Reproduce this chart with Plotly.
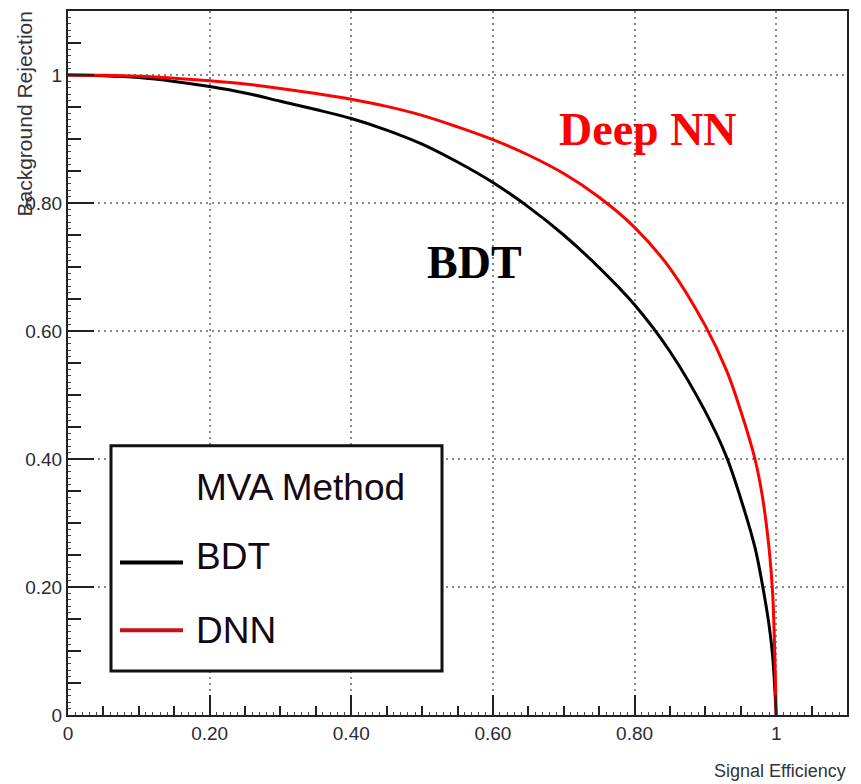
import plotly.graph_objects as go

# ---- data ----
bdt_x = [0, 0.05, 0.1, 0.15, 0.2, 0.25, 0.3, 0.35, 0.4, 0.45, 0.5, 0.55, 0.6, 0.65, 0.7,
         0.75, 0.8, 0.85, 0.9, 0.93, 0.95, 0.97, 0.98, 0.99, 0.995, 1.0]
bdt_y = [1.0, 0.999, 0.996, 0.990, 0.982, 0.972, 0.959, 0.946, 0.932, 0.914, 0.892, 0.864,
         0.832, 0.794, 0.750, 0.699, 0.641, 0.568, 0.474, 0.403, 0.338, 0.262, 0.207,
         0.140, 0.092, 0.0]

dnn_x = [0, 0.05, 0.1, 0.15, 0.2, 0.25, 0.3, 0.35, 0.4, 0.45, 0.5, 0.55, 0.6, 0.65, 0.7,
         0.75, 0.8, 0.85, 0.9, 0.93, 0.95, 0.97, 0.98, 0.99, 0.995, 1.0]
dnn_y = [1.0, 0.9995, 0.998, 0.995, 0.991, 0.986, 0.979, 0.971, 0.962, 0.951, 0.937, 0.919,
         0.899, 0.875, 0.846, 0.809, 0.762, 0.698, 0.608, 0.538, 0.475, 0.400, 0.345,
         0.260, 0.190, 0.0]

major_vals = [0, 0.2, 0.4, 0.6, 0.8, 1.0]
major_text = ["0", "0.20", "0.40", "0.60", "0.80", "1"]
mid_vals = [round(i * 0.05, 2) for i in range(23) if i % 4 != 0]

series_names = ["BDT", "DNN"]
legend_title = "MVA Method"
x_title = "Signal Efficiency"
y_title = "Background Rejection"

# ---- layout geometry ----
W, H = 861, 784
ML, MR, MT, MB = 68, 14, 9, 69
PW, PH = W - ML - MR, H - MT - MB


def px(p):
    return (p - ML) / PW


def py(p):
    return (H - MB - p) / PH


fig = go.Figure()
fig.add_trace(go.Scatter(x=bdt_x, y=bdt_y, mode="lines", name=series_names[0],
                         line=dict(color="#000000", width=3, shape="spline", smoothing=1.0),
                         showlegend=False))
fig.add_trace(go.Scatter(x=dnn_x, y=dnn_y, mode="lines", name=series_names[1],
                         line=dict(color="#ff0000", width=3, shape="spline", smoothing=1.0),
                         showlegend=False))
# invisible trace to instantiate the overlay axes
fig.add_trace(go.Scatter(x=[None], y=[None], xaxis="x2", yaxis="y2", showlegend=False,
                         hoverinfo="skip"))

tickfont = dict(family="Liberation Sans, Arial, sans-serif", size=19, color="#2b2b35")

common = dict(range=[0, 1.1], showline=True, linecolor="#222222", linewidth=2, mirror=True,
              ticks="inside", tickcolor="#222222", tickwidth=1.5,
              tickvals=major_vals, ticktext=major_text, tickfont=tickfont,
              showgrid=True, gridcolor="#8a8a8a", gridwidth=1.6, griddash="2px,4px",
              zeroline=False,
              minor=dict(dtick=0.01, ticklen=3, ticks="inside", tickcolor="#444444",
                         tickwidth=1, showgrid=False))

fig.update_layout(
    width=W, height=H,
    margin=dict(l=ML, r=MR, t=MT, b=MB),
    paper_bgcolor="white", plot_bgcolor="white",
    xaxis=dict(**common, ticklen=20),
    yaxis=dict(**common, ticklen=26),
    xaxis2=dict(range=[0, 1.1], overlaying="x", anchor="y", side="bottom",
                tickvals=mid_vals, ticks="inside", ticklen=9, tickwidth=1.5,
                tickcolor="#222222", showticklabels=False, showgrid=False,
                zeroline=False, showline=False),
    yaxis2=dict(range=[0, 1.1], overlaying="y", anchor="x", side="left",
                tickvals=mid_vals, ticks="inside", ticklen=13, tickwidth=1.5,
                tickcolor="#222222", showticklabels=False, showgrid=False,
                zeroline=False, showline=False),
    showlegend=False,
)

# legend box (drawn manually to match the reference style)
fig.add_shape(type="rect", xref="paper", yref="paper",
              x0=px(111), x1=px(442), y0=py(671), y1=py(445),
              line=dict(color="#111111", width=3), fillcolor="white", layer="above")
fig.add_shape(type="line", xref="paper", yref="paper",
              x0=px(120), x1=px(183), y0=py(562), y1=py(562),
              line=dict(color="#000000", width=4), layer="above")
fig.add_shape(type="line", xref="paper", yref="paper",
              x0=px(120), x1=px(183), y0=py(630), y1=py(630),
              line=dict(color="#c8101a", width=4), layer="above")

legfont = dict(family="Liberation Sans, Arial, sans-serif", size=37, color="#140814")
for txt, yc in [(legend_title, 487), (series_names[0], 556), (series_names[1], 630)]:
    fig.add_annotation(text=txt, xref="paper", yref="paper", x=px(194), y=py(yc),
                       xanchor="left", yanchor="middle", showarrow=False, font=legfont)

# in-plot labels
fig.add_annotation(text="<b>Deep NN</b>", xref="paper", yref="paper", x=px(648), y=py(128),
                   xanchor="center", yanchor="middle", showarrow=False,
                   font=dict(family="Liberation Serif, Times New Roman, serif", size=46,
                             color="#ff0000"))
fig.add_annotation(text="<b>BDT</b>", xref="paper", yref="paper", x=px(475), y=py(261),
                   xanchor="center", yanchor="middle", showarrow=False,
                   font=dict(family="Liberation Serif, Times New Roman, serif", size=46,
                             color="#000000"))

# axis titles
fig.add_annotation(text=x_title, xref="paper", yref="paper", x=px(848), y=py(771),
                   xanchor="right", yanchor="middle", showarrow=False,
                   font=dict(family="Liberation Sans, Arial, sans-serif", size=18,
                             color="#333338"))
fig.add_annotation(text=y_title, xref="paper", yref="paper", x=px(25), y=py(8),
                   xanchor="center", yanchor="top", textangle=-90, showarrow=False,
                   font=dict(family="Liberation Sans, Arial, sans-serif", size=21,
                             color="#333338"))

fig.write_html("out.html")
